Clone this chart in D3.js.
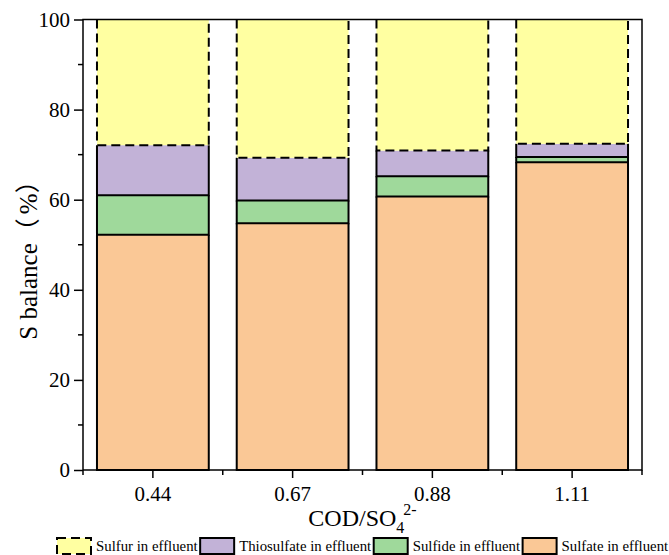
<!DOCTYPE html>
<html>
<head>
<meta charset="utf-8">
<script src="https://cdn.jsdelivr.net/npm/d3@7"></script>
<style>
  body { margin: 0; background: #fff; }
  svg text { font-family: "Liberation Serif", "Times New Roman", serif; fill: #000; }
</style>
</head>
<body>
<svg id="chart" width="669" height="555"></svg>
<script>
// data (percent of S)
const categories = ["0.44", "0.67", "0.88", "1.11"];
const sulfate = [52.2, 54.8, 60.7, 68.3];
const sulfide = [8.8, 5.0, 4.5, 1.2];
const thiosulfate = [11.1, 9.5, 5.7, 2.9];
const sulfur = [27.9, 30.7, 29.1, 27.6];
const yTicks = [0, 20, 40, 60, 80, 100];
const yMinor = [10, 30, 50, 70, 90];

const seriesKeys = ["sulfate", "sulfide", "thio", "sulfur"];
const seriesNames = {
    sulfur: "Sulfur in effluent",
    thio: "Thiosulfate in effluent",
    sulfide: "Sulfide in effluent",
    sulfate: "Sulfate in effluent"
};
const colors = {
    sulfate: "#FAC896",
    sulfide: "#9FD99B",
    thio: "#C2B2D7",
    sulfur: "#FFFFA1"
};

const rows = categories.map((c, i) => ({
    cat: c,
    sulfate: sulfate[i],
    sulfide: sulfide[i],
    thio: thiosulfate[i],
    sulfur: sulfur[i]
}));

const svg = d3.select("#chart");
const plotL = 83, plotR = 642, plotT = 19.5, plotB = 470;

const x = d3.scaleBand().domain(categories).range([plotL, plotR])
    .paddingInner(0.2).paddingOuter(0.1);
const y = d3.scaleLinear().domain([0, 100]).range([plotB, plotT]);

const stacked = d3.stack().keys(seriesKeys)(rows);

// fills first
const layers = svg.append("g").selectAll("g")
    .data(stacked).join("g");

layers.selectAll("rect")
    .data(d => d.map(v => ({ key: d.key, v })))
    .join("rect")
    .attr("x", d => x(d.v.data.cat))
    .attr("width", x.bandwidth())
    .attr("y", d => y(d.v[1]))
    .attr("height", d => y(d.v[0]) - y(d.v[1]))
    .attr("fill", d => colors[d.key]);

// outlines: left, bottom, right sides (top is the next segment's bottom)
let outline = function (d) {
    const x0 = x(d.v.data.cat), x1 = x0 + x.bandwidth();
    const y0 = y(d.v[0]), y1 = y(d.v[1]);
    return "M" + x0 + "," + y1 + "V" + y0 + "H" + x1 + "V" + y1;
};
layers.selectAll("path")
    .data(d => d.map(v => ({ key: d.key, v })))
    .join("path")
    .attr("d", outline)
    .attr("fill", "none")
    .attr("stroke", "#000")
    .attr("stroke-width", 2)
    .attr("stroke-dasharray", d => d.key === "sulfur" ? "9,5" : null);

// frame
svg.append("rect")
    .attr("x", plotL).attr("y", plotT)
    .attr("width", plotR - plotL).attr("height", plotB - plotT)
    .attr("fill", "none").attr("stroke", "#000").attr("stroke-width", 1.5);

// y axis
const yAxis = svg.append("g")
    .attr("transform", "translate(" + plotL + ",0)")
    .call(d3.axisLeft(y).tickValues(yTicks).tickSize(9).tickPadding(4));
yAxis.select(".domain").remove();
yAxis.selectAll("line").attr("stroke-width", 1.5);
yAxis.selectAll("text").style("font-size", "21px").style("font-family", "Liberation Serif");

svg.append("g").selectAll("line")
    .data(yMinor).join("line")
    .attr("x1", plotL - 5).attr("x2", plotL)
    .attr("y1", d => y(d)).attr("y2", d => y(d))
    .attr("stroke", "#000").attr("stroke-width", 1.5);

// x axis
const xAxis = svg.append("g")
    .attr("transform", "translate(0," + plotB + ")")
    .call(d3.axisBottom(x).tickSize(8).tickPadding(8));
xAxis.select(".domain").remove();
xAxis.selectAll("line").attr("stroke-width", 1.5);
xAxis.selectAll("text").style("font-size", "21px").style("font-family", "Liberation Serif");

const bounds = categories.map(c => x(c) - x.step() * x.paddingInner() / 2)
    .concat([plotR]);
bounds[0] = plotL;
svg.append("g").selectAll("line")
    .data(bounds).join("line")
    .attr("x1", d => d).attr("x2", d => d)
    .attr("y1", plotB).attr("y2", plotB + 5)
    .attr("stroke", "#000").attr("stroke-width", 1.5);

// axis titles
const xt = svg.append("text")
    .attr("x", (plotL + plotR) / 2)
    .attr("y", 526)
    .attr("text-anchor", "middle")
    .style("font-size", "24px");
xt.append("tspan").text("COD/SO");
xt.append("tspan").attr("dy", 7).style("font-size", "16px").text("4");
xt.append("tspan").attr("dy", -18).attr("dx", -1).style("font-size", "16px").text("2-");

const yt = svg.append("text")
    .attr("transform", "translate(37," + 254 + ") rotate(-90)")
    .attr("text-anchor", "middle")
    .style("font-size", "25px");
yt.append("tspan").text("S balance");
yt.append("tspan").style("font-family", "'Noto Sans CJK SC'").text("（");
yt.append("tspan").attr("dx", 4).text("%");
yt.append("tspan").style("font-family", "'Noto Sans CJK SC'").text("）");

// legend
const legendKeys = ["sulfur", "thio", "sulfide", "sulfate"];
let lx = 57;
const legend = svg.append("g");
legendKeys.forEach(k => {
    legend.append("rect")
        .attr("x", lx).attr("y", 538)
        .attr("width", 34).attr("height", 16)
        .attr("fill", colors[k])
        .attr("stroke", "#000").attr("stroke-width", 2)
        .attr("stroke-dasharray", k === "sulfur" ? "9,5" : null);
    const t = legend.append("text")
        .attr("x", lx + 39).attr("y", 551)
        .style("font-size", "14.8px")
        .text(seriesNames[k]);
    lx += 39 + t.node().getComputedTextLength() + 2.5;
});
</script>
</body>
</html>
